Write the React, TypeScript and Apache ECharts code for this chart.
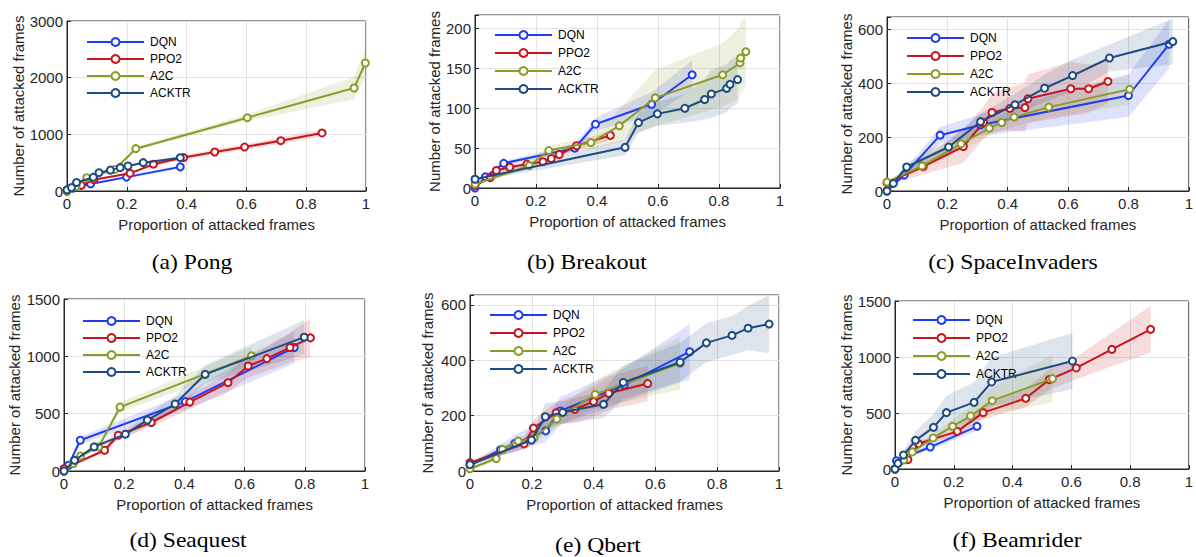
import React, { useEffect, useRef } from 'react';
import * as echarts from 'echarts';

// ---------- data: [proportion, frames, band half-width] ----------
const SERIES_NAMES = ['DQN', 'PPO2', 'A2C', 'ACKTR'];
const X_TICKS = [0, 0.2, 0.4, 0.6, 0.8, 1];
const CAPTIONS = ['(a) Pong', '(b) Breakout', '(c) SpaceInvaders', '(d) Seaquest', '(e) Qbert', '(f) Beamrider'];
const Y_MAX = [3000, 217, 645, 1500, 636, 1500];
const Y_STEP = [1000, 50, 200, 500, 200, 500];

// (a) Pong
const pongDQN = [[0, 0, 0], [0.02, 50, 5], [0.079, 125, 15], [0.199, 245, 25], [0.379, 426, 35]];
const pongPPO2 = [[0, 0, 0], [0.048, 100, 10], [0.09, 200, 15], [0.211, 312, 20], [0.289, 473, 30], [0.39, 590, 40], [0.494, 688, 45], [0.594, 776, 50], [0.715, 888, 55], [0.853, 1024, 60]];
const pongA2C = [[0, 0, 0], [0.03, 80, 10], [0.066, 235, 15], [0.16, 380, 20], [0.23, 747, 30], [0.603, 1294, 60], [0.96, 1818, 200], [0.998, 2259, 250]];
const pongACKTR = [[0, 20, 0], [0.015, 60, 5], [0.032, 150, 10], [0.088, 242, 10], [0.107, 323, 15], [0.145, 368, 15], [0.178, 412, 20], [0.204, 441, 20], [0.255, 500, 20], [0.379, 588, 25]];

// (b) Breakout
const brDQN = [[0, 0, 1], [0.034, 14, 2], [0.094, 31, 3], [0.327, 50, 5], [0.395, 80, 8], [0.579, 105, 15], [0.712, 142, 18]];
const brPPO2 = [[0, 3, 1], [0.05, 13, 2], [0.07, 22, 3], [0.114, 26, 3], [0.17, 30, 3], [0.223, 33, 3], [0.25, 37, 3], [0.276, 42, 4], [0.333, 53, 5], [0.444, 66, 6]];
const brA2C = [[0, 5, 2], [0.178, 28, 4], [0.242, 47, 6], [0.38, 57, 8], [0.473, 78, 20], [0.591, 113, 35], [0.812, 142, 40], [0.869, 157, 45], [0.871, 163, 45], [0.888, 171, 42]];
const brACKTR = [[0, 11, 2], [0.492, 51, 10], [0.536, 82, 12], [0.598, 93, 15], [0.688, 100, 18], [0.753, 111, 25], [0.775, 118, 30], [0.825, 125, 30], [0.836, 130, 30], [0.861, 136, 30]];

// (c) SpaceInvaders
const siDQN = [[0, 0, 3], [0.057, 59, 15], [0.176, 207, 30], [0.31, 245, 40], [0.8, 354, 80], [0.935, 544, 90]];
const siPPO2 = [[0, 30, 5], [0.12, 90, 30], [0.253, 165, 60], [0.32, 254, 60], [0.348, 291, 70], [0.407, 306, 80], [0.457, 309, 90], [0.467, 342, 90], [0.609, 379, 100], [0.668, 379, 90], [0.732, 406, 80]];
const siA2C = [[0, 33, 5], [0.116, 93, 15], [0.245, 175, 25], [0.339, 233, 30], [0.38, 254, 30], [0.421, 274, 35], [0.536, 311, 40], [0.804, 377, 55]];
const siACKTR = [[0, 0, 3], [0.021, 28, 10], [0.065, 89, 15], [0.204, 163, 25], [0.31, 257, 30], [0.424, 320, 40], [0.522, 381, 50], [0.615, 428, 60], [0.737, 493, 50], [0.947, 554, 85]];

// (d) Seaquest
const sqDQN = [[0, 0, 5], [0.015, 50, 15], [0.054, 268, 30], [0.403, 605, 70], [0.765, 1077, 140]];
const sqPPO2 = [[0, 20, 5], [0.135, 181, 20], [0.18, 312, 30], [0.29, 423, 40], [0.418, 601, 60], [0.545, 770, 80], [0.612, 916, 100], [0.674, 980, 110], [0.751, 1077, 130], [0.819, 1161, 170]];
const sqA2C = [[0, 0, 5], [0.031, 64, 10], [0.055, 131, 15], [0.115, 210, 20], [0.186, 557, 40], [0.623, 1004, 80]];
const sqACKTR = [[0, 0, 5], [0.035, 93, 10], [0.1, 210, 20], [0.204, 321, 30], [0.277, 444, 50], [0.369, 584, 70], [0.469, 843, 80], [0.798, 1167, 150]];

// (e) Qbert
const qbDQN = [[0, 20, 5], [0.099, 77, 20], [0.145, 100, 30], [0.245, 145, 40], [0.292, 217, 50], [0.499, 311, 60], [0.711, 431, 100]];
const qbPPO2 = [[0, 30, 5], [0.175, 98, 20], [0.205, 155, 30], [0.279, 210, 40], [0.339, 223, 50], [0.4, 251, 55], [0.449, 281, 60], [0.575, 316, 65]];
const qbA2C = [[0, 8, 5], [0.085, 45, 10], [0.105, 78, 12], [0.156, 108, 15], [0.207, 120, 20], [0.281, 188, 30], [0.405, 277, 50], [0.68, 389, 95]];
const qbACKTR = [[0, 23, 5], [0.199, 112, 20], [0.244, 196, 50], [0.3, 212, 40], [0.432, 241, 50], [0.496, 320, 60], [0.68, 393, 70], [0.765, 463, 70], [0.848, 490, 70], [0.9, 516, 80], [0.968, 531, 105]];

// (f) Beamrider
const bmDQN = [[0, 0, 0], [0.005, 74, 10], [0.12, 196, 25], [0.279, 381, 40]];
const bmPPO2 = [[0, 0, 0], [0.044, 83, 10], [0.08, 226, 20], [0.212, 336, 40], [0.3, 503, 60], [0.445, 631, 80], [0.525, 798, 90], [0.617, 902, 100], [0.738, 1068, 150], [0.87, 1247, 210]];
const bmA2C = [[0, 0, 0], [0.03, 80, 10], [0.059, 152, 20], [0.13, 277, 40], [0.196, 381, 60], [0.257, 473, 80], [0.331, 610, 120], [0.536, 807, 210]];
const bmACKTR = [[0, 0, 0], [0.01, 50, 20], [0.029, 125, 40], [0.07, 256, 80], [0.131, 372, 120], [0.175, 503, 150], [0.269, 595, 180], [0.329, 777, 220], [0.604, 964, 250]];

const PANELS = [
  [pongDQN, pongPPO2, pongA2C, pongACKTR],
  [brDQN, brPPO2, brA2C, brACKTR],
  [siDQN, siPPO2, siA2C, siACKTR],
  [sqDQN, sqPPO2, sqA2C, sqACKTR],
  [qbDQN, qbPPO2, qbA2C, qbACKTR],
  [bmDQN, bmPPO2, bmA2C, bmACKTR],
];

// ---------- layout & style ----------
const COLORS = ['#1f3cf2', '#c8141c', '#8a9c28', '#1d4a80'];
const GRIDS = [
  { left: 67, top: 21, width: 299, height: 170 },
  { left: 475, top: 15, width: 305, height: 173 },
  { left: 887, top: 17, width: 307, height: 174 },
  { left: 64, top: 299, width: 301, height: 172 },
  { left: 470, top: 295, width: 309, height: 176 },
  { left: 895, top: 301, width: 294, height: 168 },
];
const Y_NAME_GAP = [41, 33, 33, 42, 35, 41];
const LEGENDS = [
  { left: 86, top: 35, gap: 3 },
  { left: 494, top: 28, gap: 4 },
  { left: 906, top: 31, gap: 4 },
  { left: 82, top: 314, gap: 3 },
  { left: 489, top: 308, gap: 4 },
  { left: 912, top: 313, gap: 4 },
];
const CAPTION_POS = [
  [192, 263], [587, 263], [1013, 263], [188, 541], [598, 546], [1017, 541],
];
const AX = '#262626';
const SANS = 'Liberation Sans, Arial, Helvetica, sans-serif';

function bandSeries(pts: number[][], color: string, idx: number) {
  return {
    type: 'custom',
    name: 'band',
    xAxisIndex: idx,
    yAxisIndex: idx,
    silent: true,
    clip: true,
    z: 1,
    data: pts.map((p) => [p[0], p[1] - p[2], p[1] + p[2]]),
    encode: { x: 0, y: [1, 2] },
    renderItem: (params: any, api: any) => {
      if (params.dataIndex !== 0) return { type: 'group', children: [] };
      const upper = pts.map((p) => api.coord([p[0], p[1] + p[2]]));
      const lower = pts
        .slice()
        .reverse()
        .map((p) => api.coord([p[0], p[1] - p[2]]));
      return {
        type: 'polygon',
        shape: { points: upper.concat(lower) },
        style: { fill: color, opacity: 0.15 },
      };
    },
  };
}

export default function App() {
  const ref = useRef<HTMLDivElement>(null);
  useEffect(() => {
    if (!ref.current) return;
    const chart = echarts.init(ref.current, undefined, { renderer: 'svg' });
    const grid: any[] = [];
    const xAxis: any[] = [];
    const yAxis: any[] = [];
    const series: any[] = [];
    const legend: any[] = [];
    const graphic: any[] = [];

    PANELS.forEach((panel, i) => {
      grid.push({ ...GRIDS[i], show: true, borderColor: AX, borderWidth: 1, containLabel: false });
      xAxis.push({
        type: 'value',
        gridIndex: i,
        min: X_TICKS[0],
        max: X_TICKS[X_TICKS.length - 1],
        interval: X_TICKS[1] - X_TICKS[0],
        name: 'Proportion of attacked frames',
        nameLocation: 'middle',
        nameGap: 26,
        nameTextStyle: { fontSize: 15, color: AX, fontFamily: SANS },
        axisLine: { show: true, onZero: false, lineStyle: { color: AX, width: 1 } },
        axisTick: { show: true, inside: true, length: 4, lineStyle: { color: AX } },
        axisLabel: { fontSize: 15, color: AX, fontFamily: SANS, margin: 5 },
        splitLine: { show: true, lineStyle: { color: '#e2e2e2', width: 1 } },
      });
      const step = Y_STEP[i];
      yAxis.push({
        type: 'value',
        gridIndex: i,
        min: 0,
        max: Y_MAX[i],
        interval: step,
        name: 'Number of attacked frames',
        nameLocation: 'middle',
        nameGap: Y_NAME_GAP[i],
        nameTextStyle: { fontSize: 15, color: AX, fontFamily: SANS },
        axisLine: { show: true, onZero: false, lineStyle: { color: AX, width: 1 } },
        axisTick: { show: true, inside: true, length: 4, lineStyle: { color: AX } },
        axisLabel: {
          fontSize: 15,
          color: AX,
          fontFamily: SANS,
          margin: 4,
          formatter: (v: number) => (Math.abs(v % step) < 1e-9 ? String(v) : ''),
        },
        splitLine: { show: true, lineStyle: { color: '#e2e2e2', width: 1 } },
      });
      panel.forEach((pts, s) => {
        series.push(bandSeries(pts, COLORS[s], i));
      });
      panel.forEach((pts, s) => {
        series.push({
          type: 'line',
          name: SERIES_NAMES[s],
          xAxisIndex: i,
          yAxisIndex: i,
          data: pts.map((p) => [p[0], p[1]]),
          symbol: 'emptyCircle',
          symbolSize: 7,
          showAllSymbol: true,
          z: 3 + s,
          lineStyle: { color: COLORS[s], width: 2 },
          itemStyle: { color: COLORS[s], borderColor: COLORS[s], borderWidth: 1.6 },
          emphasis: { disabled: true },
        });
      });
      legend.push({
        data: SERIES_NAMES,
        orient: 'vertical',
        left: LEGENDS[i].left,
        top: LEGENDS[i].top,
        itemWidth: 57,
        itemHeight: 10,
        itemGap: LEGENDS[i].gap,
        padding: 0,
        selectedMode: false,
        textStyle: { fontSize: 12, color: '#000', fontFamily: SANS, lineHeight: 14, padding: [0, 0, 0, 1] },
      });
      graphic.push({
        type: 'text',
        x: CAPTION_POS[i][0],
        y: CAPTION_POS[i][1],
        scaleX: 1.18,
        style: {
          text: CAPTIONS[i],
          fontSize: 20,
          fontFamily: 'Liberation Serif, Times New Roman, serif',
          fill: '#000',
          textAlign: 'center',
          textVerticalAlign: 'middle',
        },
      });
    });

    chart.setOption({
      animation: false,
      backgroundColor: '#fff',
      grid,
      xAxis,
      yAxis,
      legend,
      series,
      graphic,
    });
    return () => chart.dispose();
  }, []);
  return (
    <div
      ref={ref}
      style={{ position: 'absolute', left: 0, top: 0, width: 1196, height: 557 }}
    />
  );
}
